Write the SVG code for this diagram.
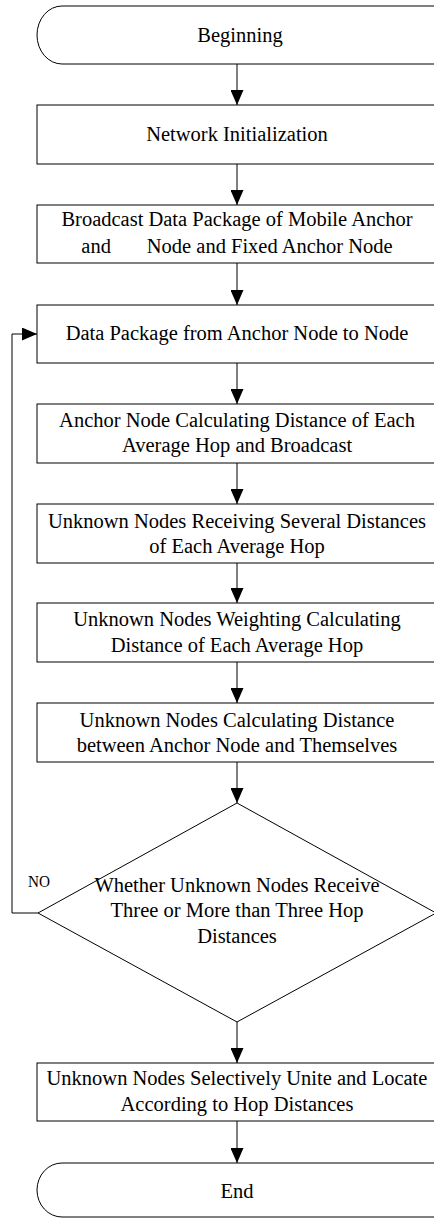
<svg xmlns="http://www.w3.org/2000/svg" width="434" height="1218" viewBox="0 0 434 1218">
  <defs>
    <marker id="arrow" viewBox="0 0 15 13" refX="15" refY="6.5" markerWidth="15" markerHeight="13" markerUnits="userSpaceOnUse" orient="auto">
      <path d="M0,0 L15,6.5 L0,13 Z" fill="#000"/>
    </marker>
    <style>
      .shape { fill: #fff; stroke: #000; stroke-width: 1; }
      .label { font-family: "Liberation Serif", "Times New Roman", serif; font-size: 20.5px; fill: #000; text-anchor: middle; }
      .tag { font-family: "Liberation Serif", "Times New Roman", serif; font-size: 17px; fill: #000; }
      .link { fill: none; stroke: #000; stroke-width: 1; marker-end: url(#arrow); }
    </style>
  </defs>

  <rect width="434" height="1218" fill="#fff"/>

  <!-- connectors -->
  <g id="connectors">
    <line class="link" x1="237" y1="64" x2="237" y2="105"/>
    <line class="link" x1="237" y1="164" x2="237" y2="205"/>
    <line class="link" x1="237" y1="263" x2="237" y2="305"/>
    <line class="link" x1="237" y1="363" x2="237" y2="404"/>
    <line class="link" x1="237" y1="463" x2="237" y2="504"/>
    <line class="link" x1="237" y1="563" x2="237" y2="603"/>
    <line class="link" x1="237" y1="662" x2="237" y2="703"/>
    <line class="link" x1="237" y1="762" x2="237" y2="803"/>
    <line class="link" x1="237" y1="1022" x2="237" y2="1063"/>
    <line class="link" x1="237" y1="1121" x2="237" y2="1163"/>
    <!-- NO branch loops back to the anchor-to-node step -->
    <polyline class="link" points="38,913 12,913 12,334 37,334"/>
    <text class="tag" x="28" y="887" textLength="22" lengthAdjust="spacingAndGlyphs">NO</text>
  </g>

  <g id="start">
    <path class="shape" d="M62,6 L437,6 L437,64 L62,64 A25,29 0 0 1 62,6 Z"/>
    <text class="label" x="240" y="42">Beginning</text>
  </g>

  <g id="init">
    <rect class="shape" x="37" y="105" width="400" height="59"/>
    <text class="label" x="237" y="141">Network Initialization</text>
  </g>

  <g id="broadcast">
    <rect class="shape" x="37" y="205" width="400" height="58"/>
    <text class="label" x="237" y="226">Broadcast Data Package of Mobile Anchor</text>
    <text class="label" x="237" y="253" xml:space="preserve">and       Node and Fixed Anchor Node</text>
  </g>

  <g id="to-node">
    <rect class="shape" x="37" y="305" width="400" height="58"/>
    <text class="label" x="237" y="340">Data Package from Anchor Node to Node</text>
  </g>

  <g id="anchor-hop">
    <rect class="shape" x="37" y="404" width="400" height="59"/>
    <text class="label" x="237" y="427">Anchor Node Calculating Distance of Each</text>
    <text class="label" x="237" y="452">Average Hop and Broadcast</text>
  </g>

  <g id="receive">
    <rect class="shape" x="37" y="504" width="400" height="59"/>
    <text class="label" x="237" y="528">Unknown Nodes Receiving Several Distances</text>
    <text class="label" x="237" y="553">of Each Average Hop</text>
  </g>

  <g id="weighting">
    <rect class="shape" x="37" y="603" width="400" height="59"/>
    <text class="label" x="237" y="626">Unknown Nodes Weighting Calculating</text>
    <text class="label" x="237" y="652">Distance of Each Average Hop</text>
  </g>

  <g id="distance">
    <rect class="shape" x="37" y="703" width="400" height="59"/>
    <text class="label" x="237" y="727">Unknown Nodes Calculating Distance</text>
    <text class="label" x="237" y="752">between Anchor Node and Themselves</text>
  </g>

  <g id="decision">
    <polygon class="shape" points="237,803 436,913 237,1022 38,913"/>
    <text class="label" x="237" y="892">Whether Unknown Nodes Receive</text>
    <text class="label" x="237" y="917">Three or More than Three Hop</text>
    <text class="label" x="237" y="943">Distances</text>
  </g>

  <g id="locate">
    <rect class="shape" x="37" y="1063" width="400" height="58"/>
    <text class="label" x="237" y="1085">Unknown Nodes Selectively Unite and Locate</text>
    <text class="label" x="237" y="1111">According to Hop Distances</text>
  </g>

  <g id="end">
    <path class="shape" d="M62,1163 L437,1163 L437,1217 L62,1217 A25,27 0 0 1 62,1163 Z"/>
    <text class="label" x="237" y="1198">End</text>
  </g>
</svg>
